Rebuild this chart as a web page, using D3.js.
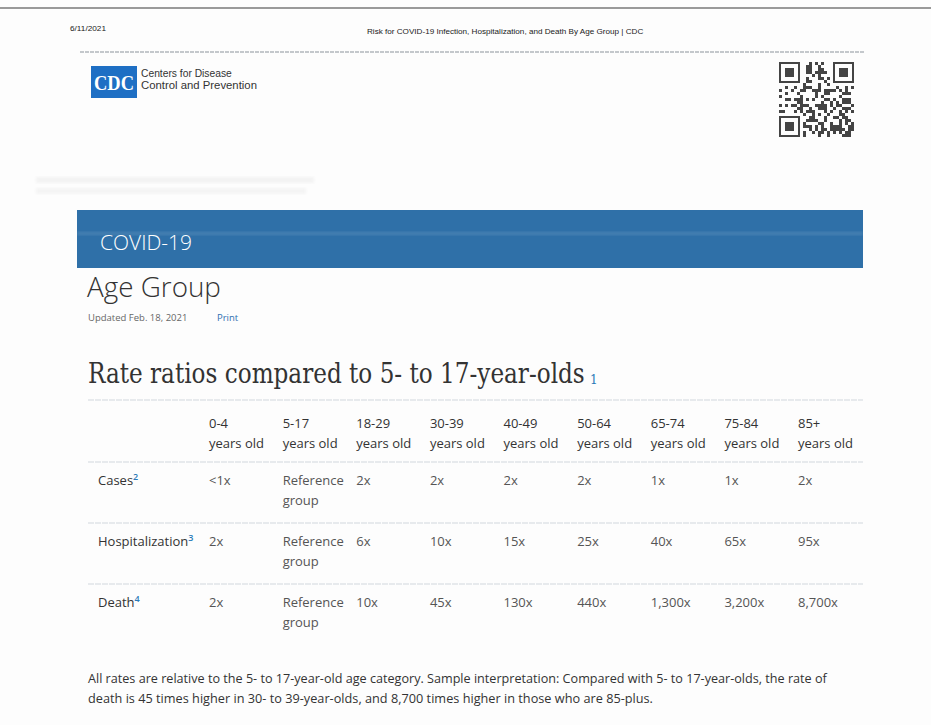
<!DOCTYPE html>
<html lang="en">
<head>
<meta charset="UTF-8">
<title>Risk for COVID-19 Infection, Hospitalization, and Death By Age Group | CDC</title>
<script src="https://cdn.jsdelivr.net/npm/d3@7"></script>
<style>
  body { margin: 0; background: #fff; }
  svg { display: block; }
</style>
</head>
<body>
<div id="page"></div>
<script>
// table data
var ageGroups = ["0-4", "5-17", "18-29", "30-39", "40-49", "50-64", "65-74", "75-84", "85+"];
var measures = ["Cases", "Hospitalization", "Death"];
var measureNotes = ["2", "3", "4"];
var casesRatio = ["<1x", "Reference group", "2x", "2x", "2x", "2x", "1x", "1x", "2x"];
var hospitalizationRatio = ["2x", "Reference group", "6x", "10x", "15x", "25x", "40x", "65x", "95x"];
var deathRatio = ["2x", "Reference group", "10x", "45x", "130x", "440x", "1,300x", "3,200x", "8,700x"];

var width = 931, height = 725;
var sans = "'Open Sans', 'Noto Sans', sans-serif";
var narrow = "'Liberation Sans Narrow', 'Liberation Sans', Arial, sans-serif";
var serif = "'DejaVu Serif', 'Liberation Serif', serif";

var svg = d3.select("#page").append("svg")
    .attr("width", width)
    .attr("height", height);

var defs = svg.append("defs");
defs.append("filter").attr("id", "soft")
  .append("feGaussianBlur").attr("stdDeviation", 1.6);

svg.append("rect").attr("width", width).attr("height", height).attr("fill", "#fdfdfd");

// squeeze a text horizontally so it spans w pixels
function fitWidth(sel, x0, y0, w) {
  var len = sel.node().getComputedTextLength();
  sel.attr("x", 0).attr("y", 0)
     .attr("transform", "translate(" + x0 + "," + y0 + ") scale(" + (w / len) + ",1)");
}

// print header
svg.append("rect").attr("x", 0).attr("y", 7).attr("width", width).attr("height", 2).attr("fill", "#9a9a9a");
fitWidth(svg.append("text")
    .attr("font-family", narrow).attr("font-size", 8).attr("fill", "#222")
    .text("6/11/2021"), 70, 31, 36);
fitWidth(svg.append("text")
    .attr("font-family", narrow).attr("font-size", 8).attr("fill", "#222")
    .text("Risk for COVID-19 Infection, Hospitalization, and Death By Age Group | CDC"), 367, 34, 277);
svg.append("line").attr("x1", 80).attr("x2", 865).attr("y1", 52).attr("y2", 52)
    .attr("stroke", "#c4c8cc").attr("stroke-width", 2).attr("stroke-dasharray", "4,1");

// CDC logo
svg.append("rect").attr("x", 91).attr("y", 66).attr("width", 46).attr("height", 32).attr("fill", "#1e6fc4");
fitWidth(svg.append("text")
    .attr("font-family", "'Liberation Serif', serif").attr("font-weight", "bold")
    .attr("font-size", 21).attr("fill", "#fff")
    .text("CDC"), 94, 90, 40);
fitWidth(svg.append("text")
    .attr("font-family", "'Liberation Sans', Arial, sans-serif").attr("font-size", 10).attr("fill", "#333")
    .text("Centers for Disease"), 141, 77, 91);
fitWidth(svg.append("text")
    .attr("font-family", "'Liberation Sans', Arial, sans-serif").attr("font-size", 10).attr("fill", "#333")
    .text("Control and Prevention"), 141, 89, 116);

// QR code (decorative, deterministic pattern)
var qr = svg.append("g").attr("transform", "translate(779,62)");
var qn = 25, qs = 3;
var qcells = [];
for (var i = 0; i < qn; i++) {
  for (var j = 0; j < qn; j++) {
    var h = ((i * 73856093) ^ (j * 19349663) ^ (i * j * 83492791)) >>> 0;
    if (h % 7 < 3) qcells.push([i, j]);
  }
}
qcells = qcells.filter(function(c) {
  var inF = function(a, b) { return a < 8 && b < 8; };
  return !(inF(c[0], c[1]) || inF(qn - 1 - c[0], c[1]) || inF(c[0], qn - 1 - c[1]));
});
qr.selectAll("rect.m").data(qcells).enter().append("rect")
    .attr("x", function(d) { return d[0] * qs; })
    .attr("y", function(d) { return d[1] * qs; })
    .attr("width", qs).attr("height", qs).attr("fill", "#444");
[[0, 0], [qn - 7, 0], [0, qn - 7]].forEach(function(p) {
  qr.append("rect").attr("x", p[0] * qs + 1).attr("y", p[1] * qs + 1)
    .attr("width", 7 * qs - 2).attr("height", 7 * qs - 2)
    .attr("fill", "none").attr("stroke", "#444").attr("stroke-width", 2);
  qr.append("rect").attr("x", p[0] * qs + 6).attr("y", p[1] * qs + 6)
    .attr("width", 3 * qs).attr("height", 3 * qs).attr("fill", "#444");
});

// faint show-through from the scan
svg.append("rect").attr("x", 36).attr("y", 177).attr("width", 278).attr("height", 6)
    .attr("fill", "#f3f3f3").attr("filter", "url(#soft)");
svg.append("rect").attr("x", 36).attr("y", 188).attr("width", 270).attr("height", 6)
    .attr("fill", "#f4f4f4").attr("filter", "url(#soft)");

// banner
svg.append("rect").attr("x", 77).attr("y", 210).attr("width", 786).attr("height", 58).attr("fill", "#2f70a8");
svg.append("rect").attr("x", 77).attr("y", 232).attr("width", 786).attr("height", 3)
    .attr("fill", "#fff").attr("opacity", 0.12).attr("filter", "url(#soft)");
svg.append("text").attr("x", 100).attr("y", 250)
    .attr("font-family", sans).attr("font-weight", 300).attr("font-size", 21).attr("fill", "#fff")
    .text("COVID-19");

// page titles
fitWidth(svg.append("text")
    .attr("font-family", sans).attr("font-weight", 300).attr("font-size", 28).attr("fill", "#333")
    .text("Age Group"), 87, 297, 134);
svg.append("text").attr("x", 88).attr("y", 321)
    .attr("font-family", sans).attr("font-size", 9.5).attr("fill", "#666")
    .text("Updated Feb. 18, 2021");
svg.append("text").attr("x", 217).attr("y", 321)
    .attr("font-family", sans).attr("font-size", 9.5).attr("fill", "#2f6fb0")
    .text("Print");

fitWidth(svg.append("text")
    .attr("font-family", serif).attr("font-size", 28).attr("fill", "#333")
    .text("Rate ratios compared to 5- to 17-year-olds"), 88, 383, 497);
svg.append("text").attr("x", 590).attr("y", 384)
    .attr("font-family", serif).attr("font-size", 12).attr("fill", "#2a7ab8")
    .text("1");

// table
var x = d3.scalePoint().domain(ageGroups).range([209, 798]);
var y = d3.scalePoint().domain(measures).range([485, 607]);
var rows = [casesRatio, hospitalizationRatio, deathRatio];

var rules = [400].concat(measures.map(function(m) { return y(m) - 23; }));
svg.selectAll("line.rule").data(rules).enter().append("line")
    .attr("x1", 88).attr("x2", 863)
    .attr("y1", function(d) { return d; }).attr("y2", function(d) { return d; })
    .attr("stroke", "#dfe3e7").attr("stroke-width", 1.5).attr("stroke-dasharray", "6,1");

var head = svg.selectAll("text.head").data(ageGroups).enter().append("text")
    .attr("x", function(d) { return x(d); })
    .attr("y", 428)
    .attr("font-family", sans).attr("font-size", 13).attr("fill", "#333");
head.append("tspan").text(function(d) { return d; });
head.append("tspan").attr("x", function(d) { return x(d); }).attr("dy", 20).text("years old");

var label = svg.selectAll("text.label").data(measures).enter().append("text")
    .attr("x", 98)
    .attr("y", function(d) { return y(d); })
    .attr("font-family", sans).attr("font-size", 13).attr("fill", "#333");
label.append("tspan").text(function(d) { return d; });
label.append("tspan").attr("dy", -5).attr("font-size", 9).attr("font-weight", 600).attr("fill", "#2a7ab8")
    .text(function(d, i) { return measureNotes[i]; });

rows.forEach(function(row, r) {
  var cell = svg.selectAll("text.r" + r).data(row).enter().append("text")
      .attr("x", function(d, i) { return x(ageGroups[i]); })
      .attr("y", y(measures[r]))
      .attr("font-family", sans).attr("font-size", 13).attr("fill", "#555");
  cell.selectAll("tspan").data(function(d) { return /x$/.test(d) ? [d] : d.split(" "); })
    .enter().append("tspan")
      .attr("x", function() { return this.parentNode.getAttribute("x"); })
      .attr("dy", function(d, k) { return k ? 20 : 0; })
      .text(function(d) { return d; });
});

// footnote
fitWidth(svg.append("text")
    .attr("font-family", sans).attr("font-size", 12.5).attr("fill", "#333")
    .text("All rates are relative to the 5- to 17-year-old age category. Sample interpretation: Compared with 5- to 17-year-olds, the rate of"), 88, 683, 740);
fitWidth(svg.append("text")
    .attr("font-family", sans).attr("font-size", 12.5).attr("fill", "#333")
    .text("death is 45 times higher in 30- to 39-year-olds, and 8,700 times higher in those who are 85-plus."), 88, 703, 565);
</script>
</body>
</html>
